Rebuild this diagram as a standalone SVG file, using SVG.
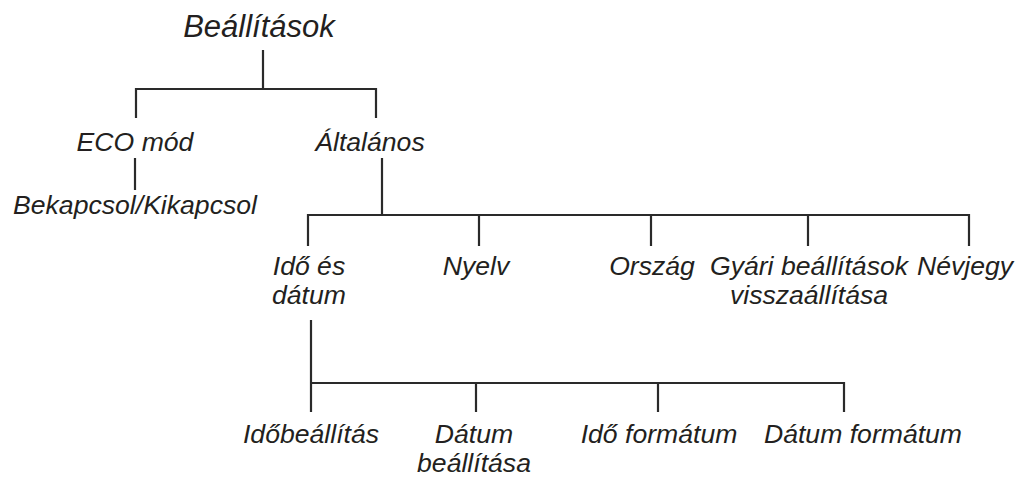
<svg xmlns="http://www.w3.org/2000/svg" width="1022" height="477" viewBox="0 0 1022 477">
<style>
text{font-family:"Liberation Sans",Arial,sans-serif;font-style:italic;fill:#231f20;font-size:26.6px;text-anchor:middle}
.t{font-size:31px}
.c path{fill:none;stroke:#2a2a2a;stroke-width:2.2}
</style>
<rect width="1022" height="477" fill="#fff"/>
<g class="c" id="connectors">
<path d="M263 50V89M136 118V89H376V118"/>
<path d="M135 158V190"/>
<path d="M382 158V215M308 246V215H969V246M479 215V246M651 215V246M808 215V246"/>
<path d="M311 320V412M311 383H844V412M476 383V412M658 383V412"/>
</g>
<g id="n-root"><text class="t" x="259" y="37">Beállítások</text></g>
<g id="n-eco"><text x="135" y="151">ECO mód</text></g>
<g id="n-altalanos"><text x="370" y="151">Általános</text></g>
<g id="n-bekapcsol"><text x="135" y="214">Bekapcsol/Kikapcsol</text></g>
<g id="n-idodatum"><text x="309" y="275">Idő és</text><text x="309" y="304">dátum</text></g>
<g id="n-nyelv"><text x="476" y="275">Nyelv</text></g>
<g id="n-orszag"><text x="652" y="275">Ország</text></g>
<g id="n-gyari"><text x="809" y="275">Gyári beállítások</text><text x="809" y="304">visszaállítása</text></g>
<g id="n-nevjegy"><text x="965" y="275">Névjegy</text></g>
<g id="n-idobeall"><text x="311" y="443">Időbeállítás</text></g>
<g id="n-datumbeall"><text x="474" y="443">Dátum</text><text x="474" y="472">beállítása</text></g>
<g id="n-idoformat"><text x="659" y="443">Idő formátum</text></g>
<g id="n-datumformat"><text x="863" y="443">Dátum formátum</text></g>
</svg>
